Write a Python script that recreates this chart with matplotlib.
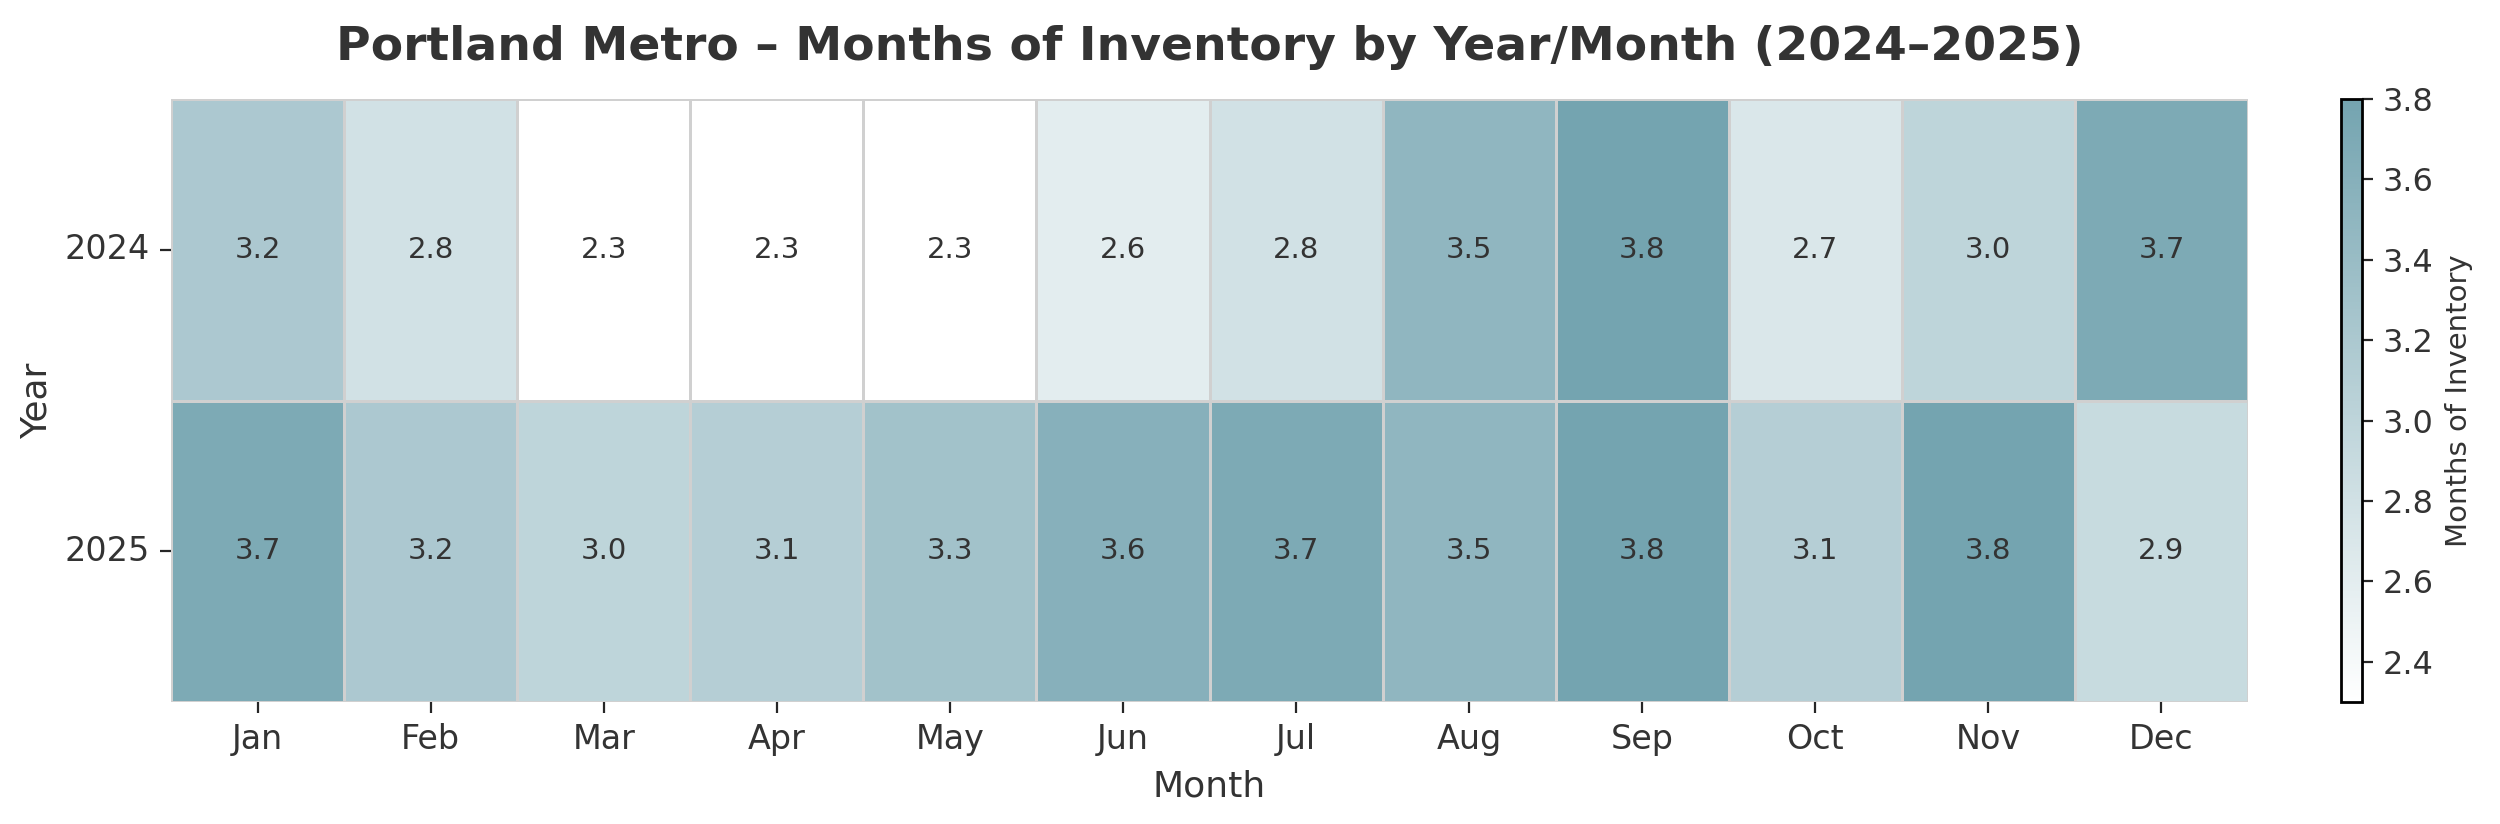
import numpy as np
import pandas as pd
import matplotlib
matplotlib.use("Agg")
import matplotlib.pyplot as plt
import seaborn as sns
from matplotlib.colors import LinearSegmentedColormap

# --- data ---
years = [2024, 2025]
months = ["Jan", "Feb", "Mar", "Apr", "May", "Jun", "Jul", "Aug", "Sep", "Oct", "Nov", "Dec"]
moi_2024 = [3.2, 2.8, 2.3, 2.3, 2.3, 2.6, 2.8, 3.5, 3.8, 2.7, 3.0, 3.7]
moi_2025 = [3.7, 3.2, 3.0, 3.1, 3.3, 3.6, 3.7, 3.5, 3.8, 3.1, 3.8, 2.9]

df = pd.DataFrame([moi_2024, moi_2025], index=years, columns=months)

sns.set_style("ticks")
plt.rcParams["font.family"] = ["DejaVu Sans"]
text_col = "#333333"

cmap = LinearSegmentedColormap.from_list("moi", ["#ffffff", "#74a4b0"])

W, H = 2500, 824
fig = plt.figure(figsize=(12.5, 4.12), dpi=200)
# axes boxes in pixel coords (left, top, right, bottom)
ax = fig.add_axes([171 / W, 1 - 702 / H, (2248 - 171) / W, (702 - 99) / H])
cax = fig.add_axes([2341 / W, 1 - 702 / H, 21 / W, (702 - 99) / H])

sns.heatmap(df, ax=ax, cbar_ax=cax, cmap=cmap, vmin=2.3, vmax=3.8,
            annot=True, fmt=".1f", annot_kws={"size": 10.5, "color": text_col},
            linewidths=1, linecolor="#d0d0d0",
            cbar_kws={"label": "Months of Inventory"})

ax.set_title("Portland Metro \u2013 Months of Inventory by Year/Month (2024\u20132025)",
             fontsize=17, fontweight="bold", color=text_col, pad=14)
ax.set_xlabel("Month", fontsize=13, color=text_col, labelpad=5)
ax.set_ylabel("Year", fontsize=13, color=text_col)
ax.tick_params(axis="both", labelsize=12, labelcolor=text_col, length=4)
plt.setp(ax.get_yticklabels(), rotation=0)
plt.setp(ax.get_xticklabels(), rotation=0)

cb = ax.collections[0].colorbar
cb.outline.set_edgecolor("black")
cb.outline.set_linewidth(1)
cb.ax.tick_params(labelsize=11.5, labelcolor=text_col, length=4)
cb.set_label("Months of Inventory", fontsize=10.5, color=text_col)
cb.set_ticks([2.4, 2.6, 2.8, 3.0, 3.2, 3.4, 3.6, 3.8])

fig.savefig("out.png", dpi=200)
